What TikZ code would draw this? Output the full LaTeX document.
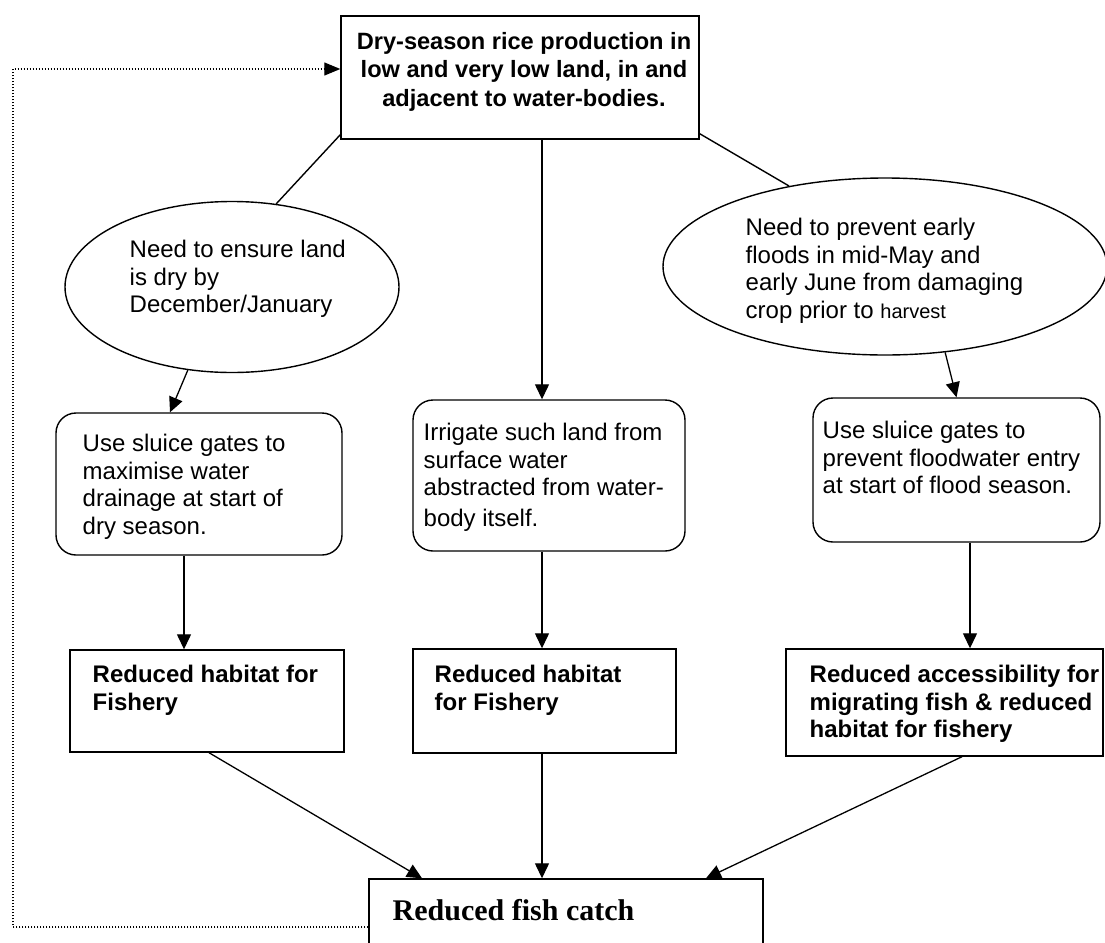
\documentclass[tikz,border=0pt]{standalone}
\usepackage{fontspec}
\setmainfont{Liberation Sans}
\newfontfamily\serifbold{Liberation Serif}
\usetikzlibrary{arrows.meta,shapes.geometric,fit}

\begin{document}
\begin{tikzpicture}[x=0.5pt,y=-0.5pt,line width=0.7pt,
  sqbox/.style={draw,rectangle,inner sep=0pt},
  rbox/.style={draw,rectangle,rounded corners=10pt,inner sep=0pt},
  oval/.style={draw,ellipse,inner sep=0pt},
  txt/.style={anchor=north west,inner sep=0pt,align=left,font=\fontsize{12}{13.8}\selectfont},
  btxt/.style={txt,font=\fontsize{12}{13.8}\selectfont\bfseries},
  arr/.style={line width=0.65pt,-{Triangle[length=7.5pt,width=7pt]}},
  feedback/.style={line width=0.6pt,dash pattern=on 0.6pt off 0.9pt,-{Triangle[length=8pt,width=6.5pt]}}]

\path[use as bounding box,clip] (0,0) rectangle (1105,943);
\fill[white] (0,0) rectangle (1105,943);

% boxes and ovals
\node[sqbox,fit={(341,16) (699,139)}] (top) {};
\node[oval,minimum width=167pt,minimum height=85.5pt] (lel) at (232,287) {};
\node[oval,minimum width=222pt,minimum height=88.5pt] (rel) at (885,266.5) {};
\node[rbox,fit={(56,413) (342,555)}] (left2) {};
\node[rbox,fit={(413,400) (685,551)}] (mid2) {};
\node[rbox,fit={(813,398) (1100,542)}] (right2) {};
\node[sqbox,fit={(70,650) (344,752)}] (left3) {};
\node[sqbox,fit={(413,649) (676,753)}] (mid3) {};
\node[sqbox,fit={(786,649) (1103,756)}] (right3) {};
\node[sqbox,fit={(369,879) (763,960)}] (bot) {};

% texts
\node[btxt,anchor=north,align=center,font=\fontsize{11.8}{14.1}\selectfont\bfseries] at (524,29)
  {\rule{0pt}{10pt}Dry-season rice production in\\low and very low land, in and\\adjacent to water-bodies.};
\node[txt] at (129,237) {\rule{0pt}{10pt}Need to ensure land\\is dry by\\December/January};
\node[txt] at (745,215) {\rule{0pt}{10pt}Need to prevent early\\floods in mid-May and\\early June from damaging\\crop prior to {\fontsize{10}{13.8}\selectfont harvest}};
\node[txt] at (82,431) {\rule{0pt}{10pt}Use sluice gates to\\maximise water\\drainage at start of\\dry season.};
\node[txt] at (423,420) {\rule{0pt}{10pt}Irrigate such land from\\surface water\\abstracted from water-\\[1.5pt]body itself.};
\node[txt] at (822,418) {\rule{0pt}{10pt}Use sluice gates to\\prevent floodwater entry\\at start of flood season.};
\node[btxt] at (92,662) {\rule{0pt}{10pt}Reduced habitat for\\Fishery};
\node[btxt] at (434,662) {\rule{0pt}{10pt}Reduced habitat\\for Fishery};
\node[btxt] at (809,662) {\rule{0pt}{10pt}Reduced accessibility for\\migrating fish \& reduced\\habitat for fishery};
\node[anchor=base west,inner sep=0pt,font=\serifbold\fontsize{15}{18}\selectfont\bfseries] at (392,920) {Reduced fish catch};

% connectors
\draw ([yshift=2.5pt]top.south west) -- (lel.62);
\draw ([yshift=3pt]top.south east) -- (rel.140);
\draw[arr] (lel.-118) -- (170,0 |- left2.north);
\draw[arr] (542,0 |- top.south) -- (542,0 |- mid2.north);
\draw[arr] (rel.-55) -- (right2.north);
\draw[arr] (184,0 |- left2.south) -- (184,0 |- left3.north);
\draw[arr] (542,0 |- mid2.south) -- (542,0 |- mid3.north);
\draw[arr] (970,0 |- right2.south) -- (970,0 |- right3.north);
\draw[arr] (209,0 |- left3.south) -- (422,0 |- bot.north);
\draw[arr] (542,0 |- mid3.south) -- (542,0 |- bot.north);
\draw[arr] (962,0 |- right3.south) -- (706,0 |- bot.north);
\draw[feedback] (bot.west |- 0,927) -- (13,927) -- (13,69) -- (top.west |- 0,69);
\end{tikzpicture}
\end{document}
